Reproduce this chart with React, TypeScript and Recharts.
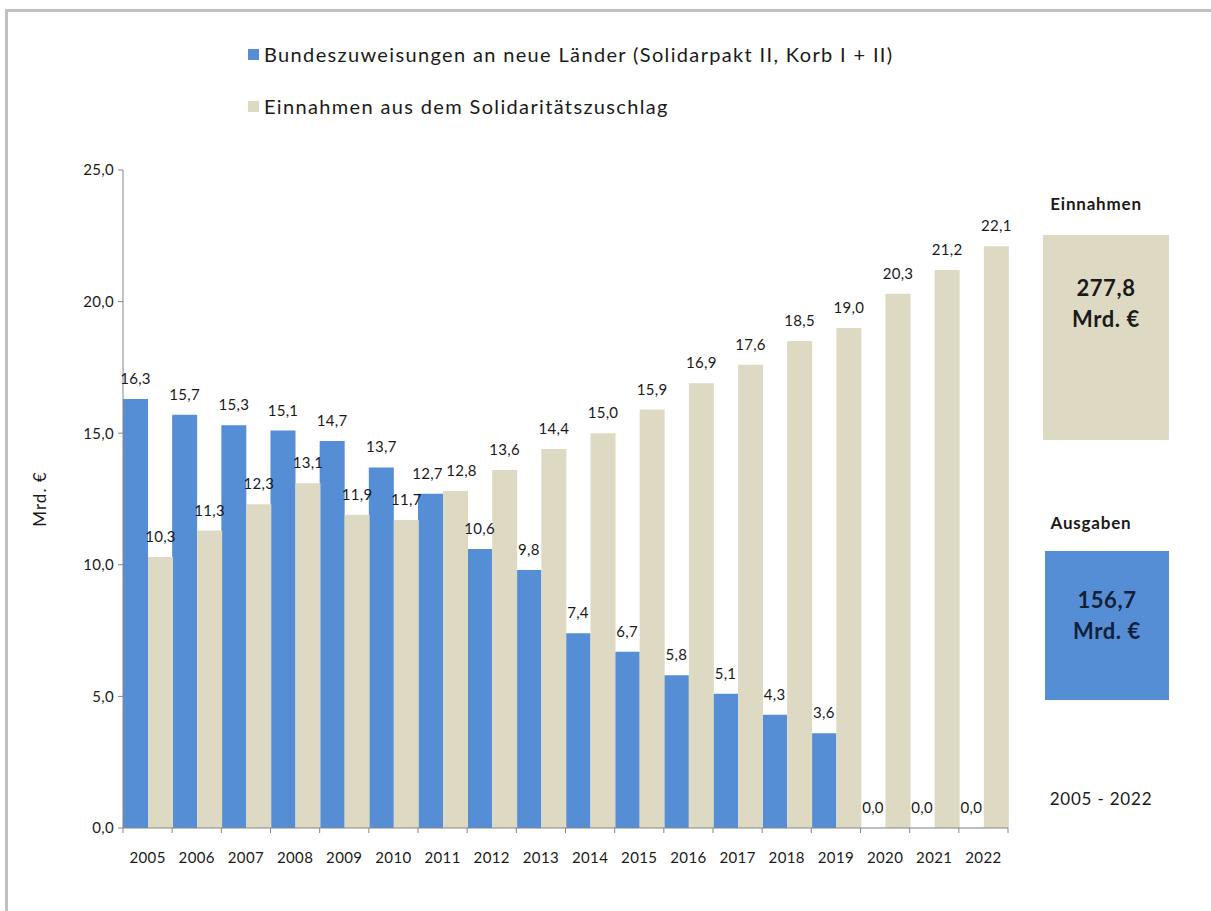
import { BarChart, Bar, XAxis, YAxis, LabelList, Label } from "recharts";

const years = [
  "2005", "2006", "2007", "2008", "2009", "2010", "2011", "2012", "2013",
  "2014", "2015", "2016", "2017", "2018", "2019", "2020", "2021", "2022",
];
const bundeszuweisungen = [
  16.3, 15.7, 15.3, 15.1, 14.7, 13.7, 12.7, 10.6, 9.8, 7.4, 6.7, 5.8, 5.1, 4.3,
  3.6, 0.0, 0.0, 0.0,
];
const soliEinnahmen = [
  10.3, 11.3, 12.3, 13.1, 11.9, 11.7, 12.8, 13.6, 14.4, 15.0, 15.9, 16.9, 17.6,
  18.5, 19.0, 20.3, 21.2, 22.1,
];
const yTicks = [0, 5, 10, 15, 20, 25];
const seriesNames = [
  "Bundeszuweisungen an neue Länder (Solidarpakt II, Korb I + II)",
  "Einnahmen aus dem Solidaritätszuschlag",
];
const totalEinnahmen = "277,8";
const totalAusgaben = "156,7";
const periodLabel = "2005 - 2022";

const BLUE = "#558ed5";
const BEIGE = "#ddd9c3";
const AXIS = "#868686";
const TEXT = "#1a1a1a";
const FONT = "Lato, 'Open Sans', sans-serif";

const CHART_W = 1211;
const CHART_H = 911;
const MARGIN = { top: 170, right: 203, left: 0, bottom: 0 };
const Y_W = 123;
const X_H = 83;
const BAND = (CHART_W - MARGIN.right - MARGIN.left - Y_W) / years.length;

const data = years.map((year, i) => ({
  year,
  blue: bundeszuweisungen[i],
  beige: soliEinnahmen[i],
}));

const fmt = (v: number) => v.toFixed(1).replace(".", ",");

// labels of a pair that sit at nearly the same height are nudged apart, like Excel does
const isClosePair = (i: number) =>
  Math.abs(bundeszuweisungen[i] - soliEinnahmen[i]) < 1;

const makeBarLabel = (side: -1 | 1) => (props: any) => {
  const { x, y, width, value, index } = props;
  const dx = isClosePair(index) ? (side < 0 ? -3 : 6) : 0;
  return (
    <text
      x={Number(x) + Number(width) / 2 + dx}
      y={Number(y) - 15}
      textAnchor="middle"
      fontSize={15}
      letterSpacing={0.3}
      fontFamily={FONT}
      fill={TEXT}
    >
      {fmt(Number(value))}
    </text>
  );
};

const YearTick = (props: any) => {
  const { x, y, payload, index } = props;
  const left = x - BAND / 2;
  const right = x + BAND / 2;
  return (
    <g>
      <line x1={left} x2={left} y1={y} y2={y + 5} stroke={AXIS} />
      {index === years.length - 1 && (
        <line x1={right} x2={right} y1={y} y2={y + 5} stroke={AXIS} />
      )}
      <text
        x={x}
        y={y + 35}
        textAnchor="middle"
        fontSize={15}
        letterSpacing={0.4}
        fontFamily={FONT}
        fill={TEXT}
      >
        {payload.value}
      </text>
    </g>
  );
};

export default function App() {
  return (
    <div
      style={{
        position: "absolute",
        left: 0,
        top: 0,
        width: CHART_W,
        height: CHART_H,
        overflow: "hidden",
        background: "#fff",
        fontFamily: FONT,
      }}
    >
      <div
        style={{
          position: "absolute",
          left: 5,
          top: 9,
          width: 1260,
          height: 960,
          border: "3px solid #c0c0c0",
        }}
      />
      {/* legend */}
      {seriesNames.map((name, i) => (
        <div
          key={name}
          style={{
            position: "absolute",
            left: 248,
            top: i === 0 ? 42 : 94,
            height: 24,
            display: "flex",
            alignItems: "center",
            fontSize: 20,
            letterSpacing: 1.35,
            color: TEXT,
            whiteSpace: "nowrap",
          }}
        >
          <div
            style={{
              width: 11,
              height: 11,
              background: i === 0 ? BLUE : BEIGE,
              marginRight: 5,
            }}
          />
          {name}
        </div>
      ))}

      <div style={{ position: "absolute", left: 0, top: 0 }}>
        <BarChart
          width={CHART_W}
          height={CHART_H}
          data={data}
          margin={MARGIN}
          barCategoryGap={0}
          barGap={0}
        >
          <XAxis
            dataKey="year"
            height={X_H}
            stroke={AXIS}
            tickLine={false}
            tickSize={0}
            tickMargin={0}
            interval={0}
            tick={<YearTick />}
          />
          <YAxis
            width={Y_W}
            domain={[0, 25]}
            ticks={yTicks}
            interval={0}
            stroke={AXIS}
            tickSize={5}
            tickMargin={4}
            tickFormatter={fmt}
            tick={{ fill: TEXT, fontSize: 15, fontFamily: FONT, letterSpacing: 0.3 }}
          >
            <Label
              value="Mrd. €"
              angle={-90}
              position="insideLeft"
              offset={40}
              style={{
                fill: TEXT,
                fontSize: 17,
                fontFamily: FONT,
                letterSpacing: 1,
                textAnchor: "middle",
              }}
            />
          </YAxis>
          <Bar
            dataKey="blue"
            name={seriesNames[0]}
            fill={BLUE}
            minPointSize={0.1}
            isAnimationActive={false}
          >
            <LabelList dataKey="blue" content={makeBarLabel(-1)} />
          </Bar>
          <Bar dataKey="beige" name={seriesNames[1]} fill={BEIGE} isAnimationActive={false}>
            <LabelList dataKey="beige" content={makeBarLabel(1)} />
          </Bar>
        </BarChart>
      </div>

      {/* totals panel */}
      <div
        style={{
          position: "absolute",
          left: 1020,
          top: 193,
          width: 152,
          textAlign: "center",
          fontWeight: 700,
          fontSize: 17,
          letterSpacing: 0.8,
          color: TEXT,
        }}
      >
        Einnahmen
      </div>
      <div
        style={{
          position: "absolute",
          left: 1043,
          top: 235,
          width: 126,
          height: 205,
          background: BEIGE,
          textAlign: "center",
          fontWeight: 700,
          fontSize: 22,
          letterSpacing: 0.6,
          lineHeight: "31px",
          color: TEXT,
          paddingTop: 37,
          boxSizing: "border-box",
        }}
      >
        {totalEinnahmen}
        <br />
        Mrd. €
      </div>
      <div
        style={{
          position: "absolute",
          left: 1015,
          top: 512,
          width: 152,
          textAlign: "center",
          fontWeight: 700,
          fontSize: 17,
          letterSpacing: 0.8,
          color: TEXT,
        }}
      >
        Ausgaben
      </div>
      <div
        style={{
          position: "absolute",
          left: 1045,
          top: 551,
          width: 124,
          height: 149,
          background: BLUE,
          textAlign: "center",
          fontWeight: 700,
          fontSize: 22,
          letterSpacing: 0.6,
          lineHeight: "31px",
          color: "#10203a",
          paddingTop: 33,
          boxSizing: "border-box",
        }}
      >
        {totalAusgaben}
        <br />
        Mrd. €
      </div>
      <div
        style={{
          position: "absolute",
          left: 1025,
          top: 788,
          width: 152,
          textAlign: "center",
          fontSize: 17,
          letterSpacing: 0.8,
          color: TEXT,
        }}
      >
        {periodLabel}
      </div>
    </div>
  );
}
